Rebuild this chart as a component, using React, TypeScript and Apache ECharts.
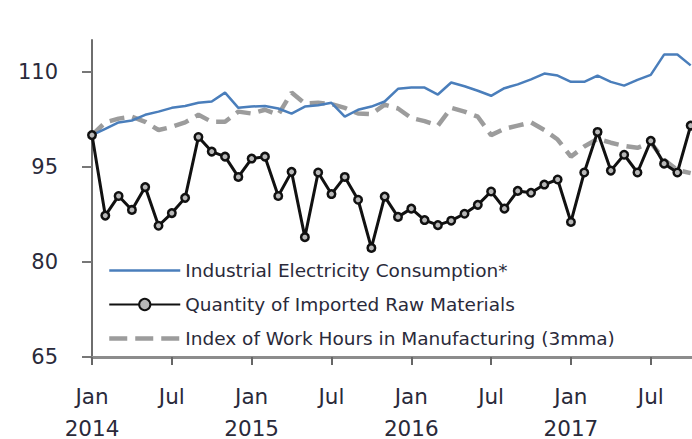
import React, { useEffect, useRef } from "react";
import * as echarts from "echarts";

// Monthly index values, Jan 2014 = 100 (Jan 2014 .. Oct 2017)
const electricity = [
  100, 101.0, 102.0, 102.3, 103.2, 103.7, 104.3, 104.6, 105.1, 105.3, 106.7, 104.3,
  104.5, 104.6, 104.2, 103.4, 104.5, 104.7, 105.1, 102.9, 104.0, 104.5, 105.3, 107.3,
  107.5, 107.5, 106.4, 108.3, 107.7, 107.0, 106.2, 107.4, 108.0, 108.8, 109.7, 109.4,
  108.4, 108.4, 109.4, 108.4, 107.8, 108.7, 109.5, 112.7, 112.7, 111.0,
];
const importedRaw = [
  100, 87.3, 90.4, 88.2, 91.8, 85.7, 87.7, 90.1, 99.7, 97.4, 96.6, 93.4,
  96.3, 96.6, 90.4, 94.2, 83.9, 94.1, 90.7, 93.4, 89.8, 82.2, 90.3, 87.1,
  88.4, 86.6, 85.8, 86.5, 87.6, 89.0, 91.1, 88.4, 91.2, 90.9, 92.2, 93.0,
  86.3, 94.1, 100.5, 94.4, 96.9, 94.1, 99.1, 95.5, 94.1, 101.5,
];
const workHours = [
  100, 102.0, 102.6, 102.9, 102.1, 100.8, 101.3, 102.0, 103.2, 102.1, 102.1, 103.7,
  103.4, 104.0, 103.2, 106.7, 105.0, 105.1, 104.9, 104.3, 103.4, 103.3, 104.8, 104.2,
  102.7, 102.2, 101.5, 104.3, 103.7, 102.9, 100.0, 101.0, 101.5, 102.0, 100.8, 99.3,
  96.6, 98.2, 99.4, 98.8, 98.3, 98.0, 98.8, 96.1, 94.5, 94.0,
];

const seriesNames = [
  "Industrial Electricity Consumption*",
  "Quantity of Imported Raw Materials",
  "Index of Work Hours in Manufacturing (3mma)",
];

const xTickValues = [0, 6, 12, 18, 24, 30, 36, 42];
const xTickMonths = ["Jan", "Jul", "Jan", "Jul", "Jan", "Jul", "Jan", "Jul"];
const xTickYears = ["2014", "", "2015", "", "2016", "", "2017", ""];
const yTickValues = [65, 80, 95, 110];

const FONT = "DejaVu Sans, Verdana, sans-serif";
const TEXT = "#2a2a3a";

export default function App() {
  const ref = useRef<HTMLDivElement>(null);

  useEffect(() => {
    if (!ref.current) return;
    const chart = echarts.init(ref.current, undefined, { renderer: "svg" });
    const toPairs = (arr: number[]) => arr.map((v, i) => [i, v]);

    chart.setOption({
      animation: false,
      backgroundColor: "#ffffff",
      grid: {
        left: 92,
        right: 0,
        top: 40,
        bottom: 82,
        containLabel: false,
        outerBoundsMode: "none",
      },
      legend: {
        orient: "vertical",
        left: 102,
        top: 256,
        padding: 5,
        itemWidth: 71,
        itemHeight: 14,
        itemGap: 15,
        data: [
          { name: seriesNames[0], itemStyle: { opacity: 0 }, lineStyle: { width: 2.5 } },
          { name: seriesNames[1] },
          {
            name: seriesNames[2],
            itemStyle: { opacity: 0 },
            lineStyle: { width: 4.5, type: [18, 8] },
          },
        ],
        textStyle: { fontFamily: FONT, fontSize: 18.5, color: TEXT },
      },
      xAxis: {
        type: "value",
        min: 0,
        max: 45.1,
        axisLine: { lineStyle: { color: "#8c8c8c", width: 3 } },
        axisTick: {
          customValues: xTickValues,
          length: 8,
          lineStyle: { color: "#666", width: 2 },
        },
        axisLabel: {
          customValues: xTickValues,
          margin: 17,
          fontFamily: FONT,
          fontSize: 21.5,
          color: TEXT,
          rich: {
            m: { fontFamily: FONT, fontSize: 21.5, lineHeight: 44, color: TEXT },
            y: { fontFamily: FONT, fontSize: 21.5, lineHeight: 20, color: TEXT },
          },
          formatter: (v: number) => {
            const k = xTickValues.indexOf(v);
            if (k < 0) return "";
            return xTickYears[k]
              ? "{m|" + xTickMonths[k] + "}\n{y|" + xTickYears[k] + "}"
              : "{m|" + xTickMonths[k] + "}";
          },
        },
        splitLine: { show: false },
      },
      yAxis: {
        type: "value",
        min: 65,
        max: 115,
        axisLine: { show: true, lineStyle: { color: "#6e6e6e", width: 2 } },
        axisTick: {
          show: true,
          customValues: yTickValues,
          length: 10,
          lineStyle: { color: "#777", width: 2 },
        },
        axisLabel: {
          customValues: yTickValues,
          margin: 34,
          fontFamily: FONT,
          fontSize: 21,
          color: TEXT,
        },
        splitLine: { show: false },
      },
      series: [
        {
          name: seriesNames[2],
          type: "line",
          data: toPairs(workHours),
          symbol: "none",
          lineStyle: { color: "#9c9c9c", width: 4.5, type: [15, 8] },
          itemStyle: { color: "#9c9c9c" },
          z: 1,
        },
        {
          name: seriesNames[0],
          type: "line",
          data: toPairs(electricity),
          symbol: "none",
          lineStyle: { color: "#4a7ebb", width: 2.5 },
          itemStyle: { color: "#4a7ebb" },
          z: 2,
        },
        {
          name: seriesNames[1],
          type: "line",
          data: toPairs(importedRaw),
          symbol: "circle",
          symbolSize: 7.5,
          showSymbol: true,
          lineStyle: { color: "#111111", width: 3 },
          itemStyle: { color: "#b8b8b8", borderWidth: 2.5, borderColor: "#111111" },
          z: 3,
        },
      ],
    });

    return () => chart.dispose();
  }, []);

  return (
    <div
      ref={ref}
      style={{ position: "fixed", left: 0, top: 0, width: 692, height: 439, background: "#fff" }}
    />
  );
}
